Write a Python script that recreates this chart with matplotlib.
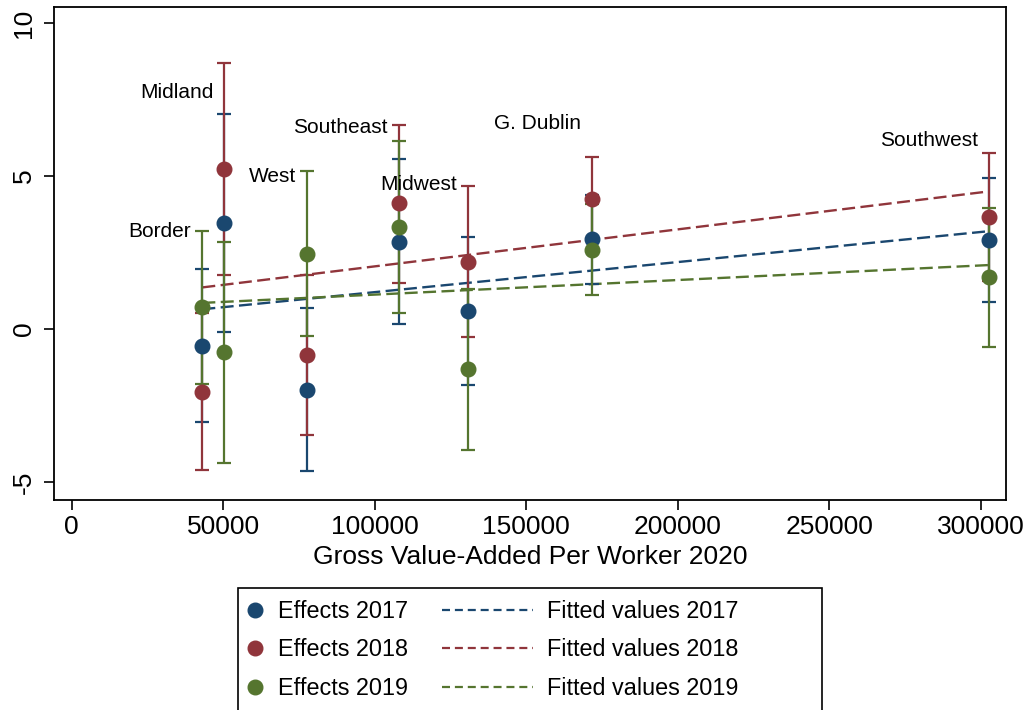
import numpy as np
import matplotlib
matplotlib.use("Agg")
import matplotlib.pyplot as plt
from matplotlib.lines import Line2D
from matplotlib.patches import Rectangle

plt.rcParams["font.family"] = ["Liberation Sans", "DejaVu Sans"]

# Regions and gross value-added per worker (2020)
regions = ["Border", "Midland", "West", "Southeast", "Midwest", "G. Dublin", "Southwest"]
gva_2020 = [43100, 50350, 77700, 108000, 130650, 171750, 302750]

# Estimated effects with confidence intervals, by year
eff_2017 = [-0.55, 3.46, -1.98, 2.85, 0.60, 2.93, 2.92]
lo_2017 = [-3.05, -0.09, -4.65, 0.16, -1.83, 1.47, 0.88]
hi_2017 = [1.95, 7.03, 0.70, 5.56, 3.02, 4.39, 4.92]

eff_2018 = [-2.05, 5.23, -0.85, 4.10, 2.20, 4.25, 3.66]
lo_2018 = [-4.61, 1.75, -3.46, 1.50, -0.27, 2.88, 1.58]
hi_2018 = [0.51, 8.68, 1.75, 6.67, 4.67, 5.62, 5.74]

eff_2019 = [0.71, -0.76, 2.46, 3.33, -1.31, 2.59, 1.71]
lo_2019 = [-1.80, -4.37, -0.22, 0.53, -3.95, 1.11, -0.58]
hi_2019 = [3.21, 2.83, 5.15, 6.15, 1.31, 4.08, 3.95]

# Vertical position of each region's name
label_y = [3.2, 7.72, 4.98, 6.58, 4.71, 6.72, 6.15]

years = ["2017", "2018", "2019"]
colors = ["#1A476F", "#90353B", "#55752F"]
effects = [eff_2017, eff_2018, eff_2019]
lows = [lo_2017, lo_2018, lo_2019]
highs = [hi_2017, hi_2018, hi_2019]

fig = plt.figure(figsize=(10.3, 7.1), dpi=100)
ax = fig.add_axes([54 / 1030, 1 - 500 / 710, (1005.7 - 54) / 1030, (500 - 7.3) / 710])

x = np.array(gva_2020, dtype=float)
xfit = np.array([x.min(), x.max()])

for eff, lo, hi, col in zip(effects, lows, highs, colors):
    e = np.array(eff)
    yerr = np.vstack([e - np.array(lo), np.array(hi) - e])
    ax.errorbar(x, e, yerr=yerr, fmt="o", color=col, ms=10.5, mec=col,
                elinewidth=1.6, capsize=4.8, capthick=1.6, zorder=3)

for eff, col in zip(effects, colors):
    slope, intercept = np.polyfit(x, np.array(eff), 1)
    ax.plot(xfit, intercept + slope * xfit, color=col, lw=1.7,
            linestyle=(0, (5.5, 2.3)), zorder=2)

for name, xv, yv in zip(regions, gva_2020, label_y):
    ax.annotate(name, (xv, yv), xytext=(-8, 0), textcoords="offset points",
                ha="right", va="center", fontsize=15, color="black")

ax.set_xlim(-5840, 308150)
ax.set_ylim(-5.59, 10.51)
ax.set_xticks([0, 50000, 100000, 150000, 200000, 250000, 300000])
ax.set_xticklabels(["0", "50000", "100000", "150000", "200000", "250000", "300000"])
ax.set_yticks([-5, 0, 5, 10])
ax.set_yticklabels(["-5", "0", "5", "10"])
ax.tick_params(axis="both", length=7, width=1.2, labelsize=19)
ax.tick_params(axis="x", pad=4)
ax.tick_params(axis="y", pad=6)
for lab in ax.get_yticklabels():
    lab.set_rotation(90)
    lab.set_va("center")
for sp in ax.spines.values():
    sp.set_linewidth(1.3)
ax.set_xlabel("Gross Value-Added Per Worker 2020", fontsize=19, labelpad=4)

# Legend: markers in the left column, fitted lines in the right column
W, H = 1030, 710
fs = 16.8
marker_handles = [Line2D([], [], marker="o", color=c, ls="none", ms=10.5, mec=c) for c in colors]
line_handles = [Line2D([], [], color=c, lw=1.6, linestyle=(0, (3.6, 2.2))) for c in colors]
leg1 = fig.legend(marker_handles, ["Effects " + y for y in years], loc="upper left",
                  bbox_to_anchor=(243.5 / W, 1 - 600 / H), frameon=False, fontsize=fs,
                  handlelength=1.0, handletextpad=0.5, borderpad=0, borderaxespad=0,
                  labelspacing=0.66)
leg2 = fig.legend(line_handles, ["Fitted values " + y for y in years], loc="upper left",
                  bbox_to_anchor=(442 / W, 1 - 600 / H), frameon=False, fontsize=fs,
                  handlelength=3.9, handletextpad=0.6, borderpad=0, borderaxespad=0,
                  labelspacing=0.66)
fig.patches.append(Rectangle((238.3 / W, -0.05), (821.7 - 238.3) / W, (1 - 588.3 / H) + 0.05,
                             transform=fig.transFigure, fill=False, lw=1.2, ec="black"))

fig.savefig("out.png", dpi=100)
